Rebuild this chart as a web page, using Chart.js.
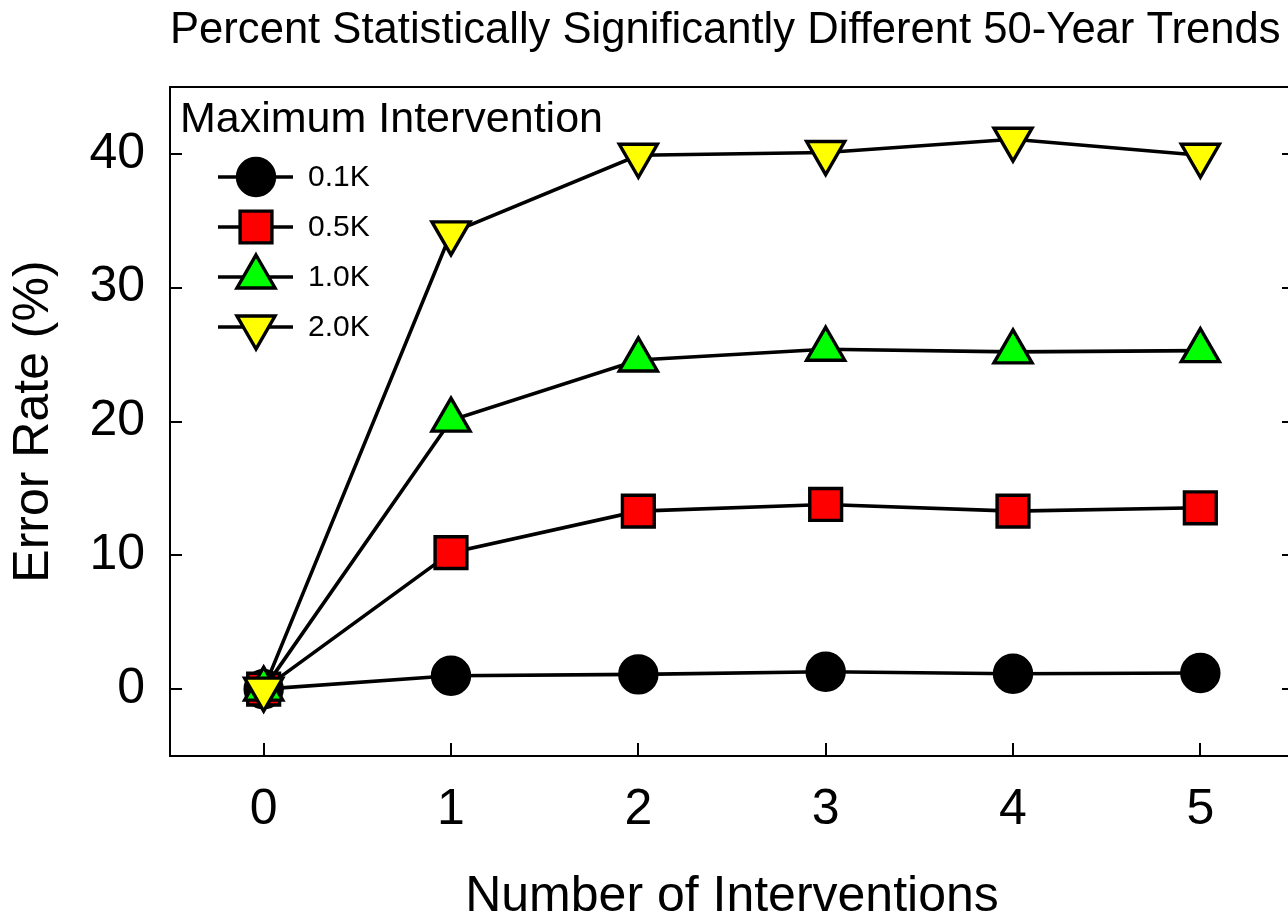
<!DOCTYPE html>
<html>
<head>
<meta charset="utf-8">
<script src="https://cdn.jsdelivr.net/npm/chart.js@4.4.1/dist/chart.umd.min.js"></script>
<style>
  html, body { margin: 0; padding: 0; overflow: hidden; background: #fff; }
  #wrap { width: 1300px; height: 930px; }
</style>
</head>
<body>
<div id="wrap"><canvas id="errorChart" width="1300" height="930"></canvas></div>
<script>
// data
const interventions = [0, 1, 2, 3, 4, 5];
const yTicks = [0, 10, 20, 30, 40];
const seriesNames = ['0.1K', '0.5K', '1.0K', '2.0K'];
const err01 = [0, 1.0, 1.1, 1.3, 1.15, 1.2];
const err05 = [0, 10.2, 13.3, 13.8, 13.3, 13.55];
const err10 = [0, 20.1, 24.6, 25.4, 25.2, 25.3];
const err20 = [0, 34.1, 39.9, 40.1, 41.1, 39.9];

const FONT = "'Liberation Sans', Arial, Helvetica, sans-serif";

function toPoints(vals) {
    return vals.map((v, i) => ({ x: interventions[i], y: v }));
}

const styles = [
    { pointStyle: 'circle', color: '#000000', radius: 18.5, rotation: 0 },
    { pointStyle: 'rect', color: '#ff0000', radius: 22.5, rotation: 0 },
    { pointStyle: 'triangle', color: '#00ff00', radius: 22, rotation: 0 },
    { pointStyle: 'triangle', color: '#ffff00', radius: 22, rotation: 180 }
];
const allSeries = [err01, err05, err10, err20];

const datasets = allSeries.map((vals, i) => ({
    label: seriesNames[i],
    data: toPoints(vals),
    order: allSeries.length - i,
    borderColor: '#000',
    borderWidth: 3.6,
    pointStyle: styles[i].pointStyle,
    pointRotation: styles[i].rotation,
    pointRadius: styles[i].radius,
    pointHoverRadius: styles[i].radius,
    pointBackgroundColor: styles[i].color,
    pointBorderColor: '#000',
    pointBorderWidth: 3.4,
    fill: false,
    tension: 0,
    clip: false
}));

// frame, inward ticks, title and legend
const decorPlugin = {
    id: 'decor',
    afterDraw(chart) {
        const ctx = chart.ctx;
        const a = chart.chartArea;
        const xs = chart.scales.x, ys = chart.scales.y;
        ctx.save();
        ctx.strokeStyle = '#000';
        ctx.lineWidth = 2;
        ctx.strokeRect(a.left, a.top, a.right - a.left, a.bottom - a.top);
        ctx.beginPath();
        yTicks.forEach(v => {
            const py = Math.round(ys.getPixelForValue(v));
            ctx.moveTo(a.left, py); ctx.lineTo(a.left + 12, py);
            ctx.moveTo(a.right, py); ctx.lineTo(a.right - 12, py);
        });
        interventions.forEach(v => {
            const px = Math.round(xs.getPixelForValue(v));
            ctx.moveTo(px, a.bottom); ctx.lineTo(px, a.bottom - 13);
        });
        ctx.stroke();

        // title
        ctx.fillStyle = '#000';
        ctx.font = '43.6px ' + FONT;
        ctx.textAlign = 'left';
        ctx.textBaseline = 'alphabetic';
        ctx.fillText('Percent Statistically Significantly Different 50-Year Trends', a.left, 43);

        // legend
        ctx.font = '43px ' + FONT;
        ctx.fillText('Maximum Intervention', a.left + 10, 132);
        ctx.font = '30px ' + FONT;
        ctx.textBaseline = 'middle';
        seriesNames.forEach((name, i) => {
            const y = a.top + 90 + i * 50;
            const cx = a.left + 86;
            ctx.strokeStyle = '#000';
            ctx.lineWidth = 3.6;
            ctx.beginPath();
            ctx.moveTo(a.left + 48, y); ctx.lineTo(a.left + 123, y);
            ctx.stroke();
            ctx.fillStyle = styles[i].color;
            ctx.lineWidth = 3.4;
            Chart.helpers.drawPoint(ctx, {
                pointStyle: styles[i].pointStyle,
                rotation: styles[i].rotation,
                radius: styles[i].radius,
                borderWidth: 3.4
            }, cx, y);
            ctx.fillStyle = '#000';
            ctx.fillText(name, a.left + 138, y + 1);
        });
        ctx.restore();
    }
};

new Chart(document.getElementById('errorChart').getContext('2d'), {
    type: 'line',
    data: { datasets: datasets },
    options: {
        responsive: false,
        animation: false,
        events: [],
        layout: { autoPadding: false, padding: { top: 87, right: 6, left: 0, bottom: 0 } },
        plugins: {
            legend: { display: false },
            title: { display: false },
            tooltip: { enabled: false }
        },
        scales: {
            x: {
                type: 'linear',
                min: -0.5,
                max: 5.5,
                afterBuildTicks: s => { s.ticks = interventions.map(v => ({ value: v })); },
                afterFit: s => { s.height = 174; },
                grid: { display: false, drawTicks: false },
                border: { display: false },
                ticks: { color: '#000', padding: 24, font: { family: FONT, size: 50 } },
                title: {
                    display: true,
                    text: 'Number of Interventions',
                    color: '#000',
                    font: { family: FONT, size: 50 },
                    padding: { top: 0, bottom: 3 }
                }
            },
            y: {
                type: 'linear',
                min: -5,
                max: 45,
                afterBuildTicks: s => { s.ticks = yTicks.map(v => ({ value: v })); },
                afterFit: s => { s.width = 170; },
                grid: { display: false, drawTicks: false },
                border: { display: false },
                ticks: { color: '#000', padding: 25, font: { family: FONT, size: 50 } },
                title: {
                    display: true,
                    text: 'Error Rate (%)',
                    color: '#000',
                    font: { family: FONT, size: 50 },
                    padding: { top: 4, bottom: 0 }
                }
            }
        }
    },
    plugins: [decorPlugin]
});
</script>
</body>
</html>
